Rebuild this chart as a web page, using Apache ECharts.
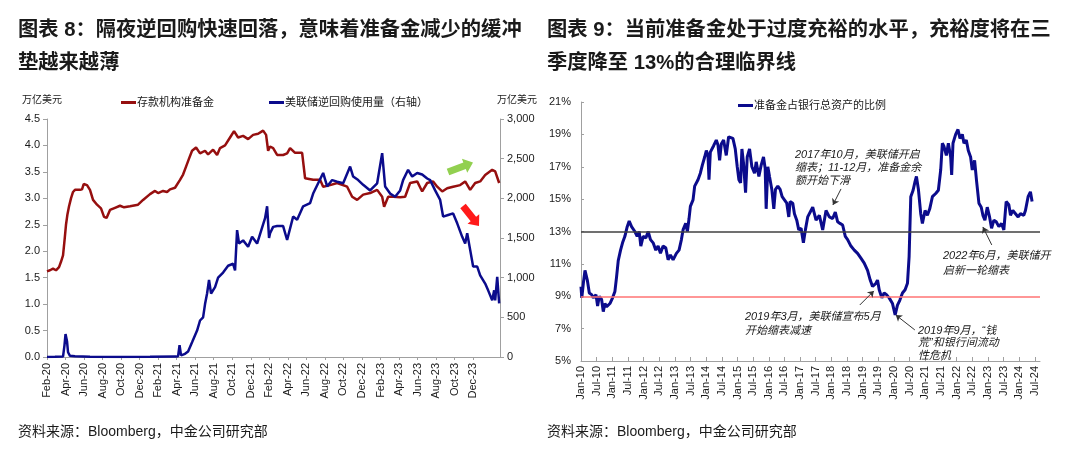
<!DOCTYPE html>
<html>
<head>
<meta charset="utf-8">
<script src="https://cdn.jsdelivr.net/npm/echarts@6/dist/echarts.min.js"></script>
<style>
html,body{margin:0;padding:0;background:#fff;}
#c{width:1080px;height:450px;}
</style>
</head>
<body>
<div id="c"></div>
<script>
// ---------- Chart 8 data (months since Feb-2020) ----------
const leftTickLabels = ['Feb-20','Apr-20','Jun-20','Aug-20','Oct-20','Dec-20','Feb-21','Apr-21','Jun-21','Aug-21','Oct-21','Dec-21','Feb-22','Apr-22','Jun-22','Aug-22','Oct-22','Dec-22','Feb-23','Apr-23','Jun-23','Aug-23','Oct-23','Dec-23'];
const leftYTicks = [0, 0.5, 1.0, 1.5, 2.0, 2.5, 3.0, 3.5, 4.0, 4.5];
const rightYTicks = [0, 500, 1000, 1500, 2000, 2500, 3000];

// 存款机构准备金 (万亿美元)
const reserveMonths = [0,0.32,0.65,0.97,1.30,1.51,1.73,1.89,2.05,2.21,2.38,2.59,2.81,3.02,3.56,3.78,3.96,4.32,4.64,4.97,5.40,5.83,6.16,6.43,6.80,7.34,7.88,8.32,8.96,9.83,10.37,11.12,11.66,11.99,12.53,12.96,13.28,13.82,14.36,14.69,15.01,15.33,15.66,16.09,16.52,17.06,17.39,17.93,18.36,18.68,19.22,19.76,20.19,20.63,21.17,21.71,22.25,22.79,23.33,23.65,23.87,24.08,24.41,24.84,25.49,25.92,26.24,26.78,27.54,27.86,28.73,29.48,29.81,30.56,31.32,32.4,32.94,33.48,34.13,34.88,35.64,36.18,36.39,36.83,37.37,38.12,38.66,39.2,39.96,40.5,41.04,41.68,42.12,42.66,43.2,43.84,44.6,45.14,45.68,46.22,46.76,47.3,48.06,48.38,48.81];
const reserveValues = [1.62,1.64,1.67,1.64,1.70,1.80,1.92,2.2,2.5,2.7,2.85,3.0,3.12,3.16,3.16,3.17,3.27,3.25,3.16,2.97,2.88,2.81,2.65,2.63,2.78,2.82,2.86,2.83,2.85,2.88,2.97,3.08,3.14,3.1,3.14,3.12,3.17,3.2,3.35,3.45,3.6,3.75,3.9,3.96,3.85,3.9,3.83,3.92,3.82,3.95,4.0,4.15,4.27,4.15,4.18,4.12,4.2,4.22,4.28,4.2,3.9,3.98,3.95,3.82,3.82,3.85,3.95,3.86,3.86,3.38,3.35,3.35,3.22,3.25,3.29,3.22,3.03,2.97,3.07,3.10,3.16,3.03,2.84,3.03,3.03,3.02,3.03,3.29,3.32,3.13,3.29,3.32,3.22,3.13,3.19,3.22,3.25,3.32,3.16,3.29,3.32,3.44,3.54,3.51,3.29];

// 美联储逆回购使用量 (右轴)
const rrpMonths = [0,0.86,1.73,1.89,2.0,2.16,2.27,2.48,3.02,4.64,7.88,11.12,13.93,14.15,14.31,14.47,14.9,15.23,15.66,16.2,16.52,16.85,17.06,17.28,17.49,17.71,18.14,18.47,19.01,19.55,20.09,20.3,20.52,20.73,21.17,21.71,22.14,22.68,23.0,23.54,23.76,23.97,24.08,24.41,24.84,25.49,25.92,26.03,26.57,27.0,27.65,28.4,28.73,29.27,29.81,30.24,30.78,31.32,31.97,32.72,33.05,33.59,34.13,34.88,35.64,36.18,36.5,37.04,37.58,38.12,38.44,38.98,39.42,39.96,40.5,41.04,41.36,41.9,42.44,42.76,43.3,43.84,44.28,44.82,45.14,45.36,45.68,46.0,46.44,46.76,47.3,47.62,48.06,48.27,48.38,48.6,48.81];
const rrpValues = [0,2,5,150,290,200,60,15,8,3,0,2,5,10,150,20,40,70,185,333,460,500,667,800,970,800,880,1000,1065,1150,1175,1090,1600,1430,1470,1390,1515,1430,1550,1750,1900,1500,1560,1640,1650,1650,1475,1450,1770,1730,1900,1940,2060,2190,2320,2150,2230,2210,2190,2400,2275,2230,2170,2100,2190,2570,2150,2060,2020,2100,2230,2360,2275,2320,2300,2250,2230,2100,1980,1770,1790,1810,1685,1515,1430,1560,1350,1140,1140,1030,925,840,715,840,715,1010,675];

// ---------- Chart 9 data (months since Jan-2010) ----------
const rightTickLabels = ['Jan-10','Jul-10','Jan-11','Jul-11','Jan-12','Jul-12','Jan-13','Jul-13','Jan-14','Jul-14','Jan-15','Jul-15','Jan-16','Jul-16','Jan-17','Jul-17','Jan-18','Jul-18','Jan-19','Jul-19','Jan-20','Jul-20','Jan-21','Jul-21','Jan-22','Jul-22','Jan-23','Jul-23','Jan-24','Jul-24'];
const ratioYTicks = [5, 7, 9, 11, 13, 15, 17, 19, 21];
const ratioMonths = [0,0.3,0.9,1.53,1.78,2.42,3.19,4.08,4.72,5.74,6.37,7.01,7.9,8.54,9.18,9.82,11.09,12.11,13.0,13.64,14.28,15.17,15.93,16.83,17.72,18.48,19.38,20.65,21.54,22.31,22.94,23.84,24.86,25.75,26.64,27.66,28.68,29.57,30.47,31.48,32.5,33.4,34.29,35.31,36.58,37.6,38.5,39.13,40.15,40.79,41.43,41.94,42.96,43.59,44.87,45.76,46.53,47.42,48.06,48.69,49.08,49.59,50.86,51.88,52.52,53.15,53.79,54.68,55.7,56.6,57.23,58.25,59.15,59.91,60.55,61.19,61.7,62.33,63.1,63.74,64.63,65.52,66.54,67.18,68.2,69.09,69.98,70.62,71.0,71.64,72.28,73.17,73.93,74.57,75.46,76.35,77.12,78.01,78.9,79.67,80.18,81.2,81.84,82.73,83.5,84.39,85.28,86.04,86.93,87.57,88.85,90.12,91.4,92.67,93.95,95.22,96.5,97.51,98.41,99.3,100.32,101.34,102.23,103.5,104.78,106.05,107.33,108.6,109.88,110.9,111.79,113.07,113.7,114.34,115.36,116.25,117.14,118.16,119.44,120.46,121.35,122.24,123.26,124.28,125.18,125.81,126.45,127.34,128.1,128.62,129.38,130.27,130.91,131.93,132.82,133.72,134.74,136.01,137.03,137.92,138.56,139.2,140.09,140.86,141.75,142.13,142.64,143.66,144.55,145.32,146.21,146.85,147.74,148.5,149.39,150.03,150.92,151.69,152.58,153.47,154.11,154.88,155.77,156.66,157.43,158.32,159.21,160.23,161.25,162.14,163.03,164.05,164.69,165.58,166.6,167.62,168.51,169.79,170.42,171.44,172.33,172.97];
const ratioValues = [9.6,8.9,9.8,10.6,10.7,10.0,9.2,9.1,8.9,9.1,8.4,9.0,8.8,8.05,8.55,8.35,8.55,8.9,9.3,10.2,11.2,11.85,12.3,12.7,13.3,13.65,13.3,13.0,12.7,13.0,12.1,12.7,12.6,13.0,12.5,12.3,11.85,12.1,11.65,12.1,12.0,11.25,11.55,11.25,11.65,11.85,12.5,13.1,13.5,13.0,13.8,14.55,14.95,15.8,16.2,16.6,17.1,17.6,18.0,17.7,16.2,17.9,18.3,18.65,18.35,17.4,18.4,18.65,17.7,18.85,18.95,18.75,18.1,17.0,16.2,16.0,18.1,17.2,15.4,17.6,18.1,17.0,16.6,17.3,16.4,17.1,17.6,16.9,14.4,17.0,16.4,15.6,14.4,15.6,15.8,15.6,15.15,14.95,14.75,13.9,14.85,14.75,14.1,13.7,13.1,13.2,12.3,13.1,13.9,13.9,14.5,13.7,14.0,13.1,14.3,13.9,13.8,14.2,13.6,13.5,13.4,12.7,12.5,12.1,11.85,11.65,11.35,11.05,10.6,10.0,9.6,9.8,10.0,9.4,8.9,9.2,9.1,8.9,8.55,7.85,8.45,8.75,9.2,9.4,9.8,11.45,15.15,15.55,16.1,16.4,15.6,14.1,13.5,14.3,14.0,14.4,15.15,15.35,15.55,16.8,18.45,18.25,17.7,18.45,17.6,16.5,18.45,19.0,19.3,18.75,19.0,18.45,18.65,18.0,17.6,16.8,17.4,16.1,14.75,14.5,14.0,13.7,14.5,13.9,13.2,13.7,13.6,13.3,13.5,13.1,14.85,14.65,14.0,14.3,14.1,13.9,14.1,14.0,14.3,15.15,15.45,14.85];
const criticalLevel = 13;
const lowLevel = 9;

// ---------- build ----------
const zip = (a, b) => a.map((v, i) => [v, b[i]]);
const CJK = "'Liberation Sans','Noto Sans CJK SC',sans-serif";
const TXT = '#1a1a1a';
const AX = '#a0a0a0';

function blockArrow(x1, y1, x2, y2, shaft, headW, headL, color) {
  const dx = x2 - x1, dy = y2 - y1, L = Math.hypot(dx, dy);
  const ux = dx / L, uy = dy / L, nx = -uy, ny = ux;
  const bx = x2 - ux * headL, by = y2 - uy * headL;
  const pts = [
    [x1 + nx * shaft / 2, y1 + ny * shaft / 2],
    [bx + nx * shaft / 2, by + ny * shaft / 2],
    [bx + nx * headW / 2, by + ny * headW / 2],
    [x2, y2],
    [bx - nx * headW / 2, by - ny * headW / 2],
    [bx - nx * shaft / 2, by - ny * shaft / 2],
    [x1 - nx * shaft / 2, y1 - ny * shaft / 2]
  ];
  return { type: 'polygon', shape: { points: pts }, style: { fill: color }, z: 100 };
}
function txt(x, y, text, size, opts) {
  return Object.assign({ type: 'text', x: x, y: y, z: 100,
    style: Object.assign({ text: text, font: (opts && opts.font) || (size + 'px ' + CJK), fill: TXT, textVerticalAlign: 'middle' }, (opts && opts.style) || {}) });
}
const italic = (s) => 'italic ' + s + 'px ' + CJK;

const leftTickVals = leftTickLabels.map((_, i) => i * 2);
const rightTickVals = rightTickLabels.map((_, i) => i * 6);

const chart = echarts.init(document.getElementById('c'), null, { renderer: 'canvas' });
const axisLabelBase = { color: TXT, fontSize: 11, fontFamily: CJK };

const option = {
  animation: false,
  backgroundColor: '#fff',
  grid: [
    { left: 47, top: 119, width: 453, height: 238, outerBoundsMode: 'none', containLabel: false },
    { left: 581, top: 102, width: 459, height: 259, outerBoundsMode: 'none', containLabel: false }
  ],
  xAxis: [
    { type: 'value', gridIndex: 0, min: 0, max: 48.9, interval: 2,
      axisLine: { lineStyle: { color: AX } }, splitLine: { show: false },
      axisTick: { show: true, length: 3, customValues: leftTickVals, lineStyle: { color: AX } },
      axisLabel: Object.assign({}, axisLabelBase, { rotate: 90, margin: 6, customValues: leftTickVals,
        formatter: v => leftTickLabels[Math.round(v / 2)] || '' }) },
    { type: 'value', gridIndex: 1, min: 0, max: 176, interval: 6,
      axisLine: { lineStyle: { color: AX } }, splitLine: { show: false },
      axisTick: { show: true, inside: true, length: 4, customValues: rightTickVals, lineStyle: { color: AX } },
      axisLabel: Object.assign({}, axisLabelBase, { rotate: 90, margin: 5, customValues: rightTickVals,
        formatter: v => rightTickLabels[Math.round(v / 6)] || '' }) }
  ],
  yAxis: [
    { type: 'value', gridIndex: 0, min: 0, max: 4.5, interval: 0.5, position: 'left',
      axisLine: { show: true, lineStyle: { color: AX } }, splitLine: { show: false },
      axisTick: { show: true, length: 4, lineStyle: { color: AX } },
      axisLabel: Object.assign({}, axisLabelBase, { margin: 7, customValues: leftYTicks, formatter: v => v.toFixed(1) }) },
    { type: 'value', gridIndex: 0, min: 0, max: 3000, interval: 500, position: 'right',
      axisLine: { show: true, lineStyle: { color: AX } }, splitLine: { show: false },
      axisTick: { show: true, length: 4, lineStyle: { color: AX } },
      axisLabel: Object.assign({}, axisLabelBase, { margin: 7, customValues: rightYTicks, formatter: v => v.toLocaleString('en-US') }) },
    { type: 'value', gridIndex: 1, min: 5, max: 21, interval: 2,
      axisLine: { show: true, lineStyle: { color: AX } }, splitLine: { show: false },
      axisTick: { show: true, inside: true, length: 3, lineStyle: { color: AX } },
      axisLabel: Object.assign({}, axisLabelBase, { margin: 10, customValues: ratioYTicks, formatter: v => v + '%' }) }
  ],
  legend: [
    { data: ['存款机构准备金'], left: 116, top: 92, icon: 'rect', itemWidth: 15, itemHeight: 3, itemGap: 2,
      textStyle: { fontSize: 11, color: TXT, fontFamily: CJK, padding: [0, 0, 0, -4] } },
    { data: ['美联储逆回购使用量（右轴）'], left: 264, top: 92, icon: 'rect', itemWidth: 15, itemHeight: 3,
      textStyle: { fontSize: 11, color: TXT, fontFamily: CJK, padding: [0, 0, 0, -4] } },
    { data: ['准备金占银行总资产的比例'], left: 733, top: 95, icon: 'rect', itemWidth: 15, itemHeight: 3,
      textStyle: { fontSize: 11, color: TXT, fontFamily: CJK, padding: [0, 0, 0, -4] } }
  ],
  series: [
    { name: '存款机构准备金', type: 'line', xAxisIndex: 0, yAxisIndex: 0, showSymbol: false,
      data: zip(reserveMonths, reserveValues), lineStyle: { color: '#960f0f', width: 2.5 }, itemStyle: { color: '#960f0f' } },
    { name: '美联储逆回购使用量（右轴）', type: 'line', xAxisIndex: 0, yAxisIndex: 1, showSymbol: false,
      data: zip(rrpMonths, rrpValues), lineStyle: { color: '#0b0b8c', width: 2.5 }, itemStyle: { color: '#0b0b8c' } },
    { name: '准备金占银行总资产的比例', type: 'line', xAxisIndex: 1, yAxisIndex: 2, showSymbol: false,
      data: zip(ratioMonths, ratioValues), lineStyle: { color: '#0b0b8c', width: 3 }, itemStyle: { color: '#0b0b8c' },
      markLine: { silent: true, symbol: ['none', 'none'], label: { show: false },
        data: [
          { yAxis: criticalLevel, lineStyle: { color: '#404040', width: 1.5, type: 'solid' } },
          { yAxis: lowLevel, lineStyle: { color: '#ff7373', width: 1.5, type: 'solid' } },
          [{ coord: [99.7, 15.63], symbol: 'none' }, { coord: [96.6, 14.64], symbol: 'arrow', symbolSize: 6, lineStyle: { color: '#333', width: 1, type: 'solid' } }],
          [{ coord: [106.9, 8.46], symbol: 'none' }, { coord: [112.3, 9.33], symbol: 'arrow', symbolSize: 6, lineStyle: { color: '#333', width: 1, type: 'solid' } }],
          [{ coord: [128.0, 6.92], symbol: 'none' }, { coord: [120.7, 7.84], symbol: 'arrow', symbolSize: 6, lineStyle: { color: '#333', width: 1, type: 'solid' } }],
          [{ coord: [157.5, 12.17], symbol: 'none' }, { coord: [154.1, 13.28], symbol: 'arrow', symbolSize: 6, lineStyle: { color: '#333', width: 1, type: 'solid' } }]
        ] } }
  ],
  graphic: [
    txt(18, 30, '图表 8：隔夜逆回购快速回落，意味着准备金减少的缓冲', 20, { font: 'bold 20.3px ' + CJK }),
    txt(18, 63, '垫越来越薄', 20, { font: 'bold 20.3px ' + CJK }),
    txt(547, 30, '图表 9：当前准备金处于过度充裕的水平，充裕度将在三', 20, { font: 'bold 20.3px ' + CJK }),
    txt(547, 63, '季度降至 13%的合理临界线', 20, { font: 'bold 20.3px ' + CJK }),
    txt(22, 100, '万亿美元', 10),
    txt(497, 100, '万亿美元', 10),
    txt(18, 432, '资料来源：Bloomberg，中金公司研究部', 14),
    txt(547, 432, '资料来源：Bloomberg，中金公司研究部', 14),
    txt(795, 148.5, '2017年10月，美联储开启\n缩表；11-12月，准备金余\n额开始下滑', 11, { font: italic(11), style: { textVerticalAlign: 'top', lineHeight: 13 } }),
    txt(943, 248, '2022年6月，美联储开\n启新一轮缩表', 11, { font: italic(11), style: { textVerticalAlign: 'top', lineHeight: 15 } }),
    txt(745, 309.5, '2019年3月，美联储宣布5月\n开始缩表减速', 11, { font: italic(11), style: { textVerticalAlign: 'top', lineHeight: 14 } }),
    txt(918, 324.5, '2019年9月，“钱\n荒”和银行间流动\n性危机', 11, { font: italic(11), style: { textVerticalAlign: 'top', lineHeight: 12.5 } }),
    blockArrow(448, 172, 473, 162.5, 7, 15, 9, '#92d050'),
    blockArrow(463, 206, 479, 226, 7, 15, 9, '#ff1a1a')
  ]
};
chart.setOption(option);
</script>
</body>
</html>
